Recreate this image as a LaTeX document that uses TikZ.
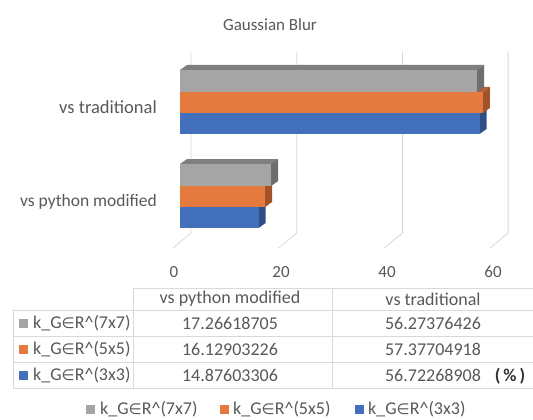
\documentclass[tikz,border=0pt]{standalone}
\usepackage{fontspec}
\setmainfont{Carlito}
\newfontfamily\symf{DejaVu Sans}
\definecolor{txt}{HTML}{595959}
\definecolor{gridc}{HTML}{D9D9D9}
\definecolor{cgrey}{HTML}{A5A5A5}
\definecolor{cgreyside}{HTML}{6E6E6E}
\definecolor{cgreytop}{HTML}{7F7F7F}
\definecolor{corange}{HTML}{E47A3E}
\definecolor{corangeside}{HTML}{A3532A}
\definecolor{corangetop}{HTML}{B85F30}
\definecolor{cblue}{HTML}{4270BA}
\definecolor{cblueside}{HTML}{2E4E88}
\definecolor{cbluetop}{HTML}{34599A}
\newcommand{\kgr}[1]{k\_G{\symf\fontsize{15}{18}\selectfont\char"2208}R\textasciicircum(#1)}
\newcommand{\dbar}[7]{%
  \pgfmathsetmacro\xe{180+#3*5.28}%
  \fill[#6] (180,#1) -- (\xe,#1) -- ++(7,-5) -- (187,{#1-5}) -- cycle;
  \fill[#5] (\xe,#1) -- ++(7,-5) -- ++(0,{#2-#1}) -- (\xe,#2) -- cycle;
  \fill[#4] (180,#1) rectangle (\xe,#2);
}
\begin{document}
\begin{tikzpicture}[x=1pt,y=-1pt,
  lbl/.style={text=txt,font=\fontsize{17}{20}\selectfont,inner sep=0pt},
  tlbl/.style={text=txt,font=\fontsize{18}{21}\selectfont,inner sep=0pt},
  gline/.style={draw=gridc,line width=0.8pt},
  tline/.style={draw=gridc,line width=0.8pt},
  sq/.style={minimum size=9pt,inner sep=0pt,draw=none}]
\useasboundingbox[fill=white] (0,0) rectangle (533,420);
% title
\node[lbl] (title) at (270,25) {Gaussian Blur};
% gridlines
\foreach \i in {0,1,2,3}{
  \pgfmathsetmacro\gx{191+\i*105.7}
  \draw[gline] (\gx,52) -- (\gx,233) -- ({\gx-18},248);
}
% axis labels
\node[lbl] (ax0) at (174,272) {0};
\node[lbl] (ax20) at (281,272) {20};
\node[lbl] (ax40) at (387,272) {40};
\node[lbl] (ax60) at (493,272) {60};
% category labels
\node[lbl,font=\fontsize{18.5}{22}\selectfont,anchor=east] (cattrad) at (157,107) {vs traditional};
\node[lbl,font=\fontsize{17.5}{21}\selectfont,anchor=east] (catpy) at (157,202) {vs python modified};
% bars: traditional
\dbar{113}{134}{56.72268908}{cblue}{cblueside}{cbluetop}{}
\dbar{92}{113}{57.37704918}{corange}{corangeside}{corangetop}{}
\dbar{70}{92}{56.27376426}{cgrey}{cgreyside}{cgreytop}{}
% bars: python modified
\dbar{207}{228}{14.87603306}{cblue}{cblueside}{cbluetop}{}
\dbar{186}{207}{16.12903226}{corange}{corangeside}{corangetop}{}
\dbar{164}{186}{17.26618705}{cgrey}{cgreyside}{cgreytop}{}
% table
\draw[tline] (133,288) -- (533,288);
\foreach \yy in {310,336,362,388}{\draw[tline] (13,\yy) -- (533,\yy);}
\draw[tline] (13,310) -- (13,388);
\draw[tline] (133,288) -- (133,388);
\draw[tline] (332,288) -- (332,388);
\node[tlbl] (h1) at (230,299) {vs python modified};
\node[tlbl] (h2) at (433,299) {vs traditional};
\node[sq,fill=cgrey] (r1sq) at (23.5,323) {};
\node[tlbl,anchor=west] (r1) at (33,323) {\kgr{7x7}};
\node[sq,fill=corange] (r2sq) at (23.5,349) {};
\node[tlbl,anchor=west] (r2) at (33,349) {\kgr{5x5}};
\node[sq,fill=cblue] (r3sq) at (23.5,375) {};
\node[tlbl,anchor=west] (r3) at (33,375) {\kgr{3x3}};
\node[tlbl] (v11) at (230,323) {17.26618705};
\node[tlbl] (v12) at (433,323) {56.27376426};
\node[tlbl] (v21) at (230,349) {16.12903226};
\node[tlbl] (v22) at (433,349) {57.37704918};
\node[tlbl] (v31) at (230,375) {14.87603306};
\node[tlbl] (v32) at (433,375) {56.72268908};
\node[tlbl,text=black!80] (pct) at (510,376) {\textbf{(\,\%\,)}};
% legend
\node[sq,fill=cgrey] (l1sq) at (90.5,409) {};
\node[tlbl,anchor=west] (l1) at (100,409) {\kgr{7x7}};
\node[sq,fill=corange] (l2sq) at (224.5,409) {};
\node[tlbl,anchor=west] (l2) at (233,409) {\kgr{5x5}};
\node[sq,fill=cblue] (l3sq) at (359.5,409) {};
\node[tlbl,anchor=west] (l3) at (368,409) {\kgr{3x3}};
\end{tikzpicture}
\end{document}
